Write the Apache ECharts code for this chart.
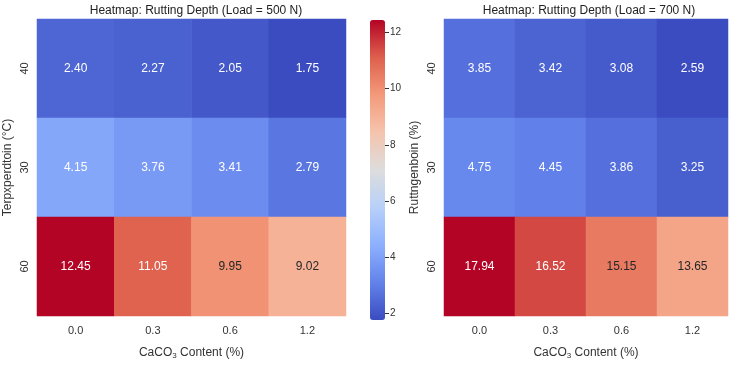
<!DOCTYPE html>
<html>
<head>
<meta charset="utf-8">
<script src="https://cdn.jsdelivr.net/npm/echarts@6/dist/echarts.min.js"></script>
<style>
  html, body { margin: 0; padding: 0; background: #fff; }
  #main { width: 730px; height: 365px; }
</style>
</head>
<body>
<div id="main"></div>
<script>
// data
var xCats = ['0.0', '0.3', '0.6', '1.2'];
var yCats = ['40', '30', '60'];
var depth500 = [
    [2.40, 2.27, 2.05, 1.75],
    [4.15, 3.76, 3.41, 2.79],
    [12.45, 11.05, 9.95, 9.02]
];
var depth700 = [
    [3.85, 3.42, 3.08, 2.59],
    [4.75, 4.45, 3.86, 3.25],
    [17.94, 16.52, 15.15, 13.65]
];
var cbarTicks = [2, 4, 6, 8, 10, 12];

// coolwarm
var coolwarm = ['#3b4cc0', '#6282ea', '#8db0fe', '#b8d0f9', '#dddddd',
                '#f5c4ad', '#f49a7b', '#de604d', '#b40426'];
var FONT = '"Liberation Sans", Arial, sans-serif';

function hexRgb(h) {
    return [parseInt(h.substr(1, 2), 16), parseInt(h.substr(3, 2), 16), parseInt(h.substr(5, 2), 16)];
}
function cmap(t) {
    t = Math.max(0, Math.min(1, t));
    var p = t * (coolwarm.length - 1);
    var i = Math.min(Math.floor(p), coolwarm.length - 2);
    var f = p - i;
    var a = hexRgb(coolwarm[i]), b = hexRgb(coolwarm[i + 1]);
    return [0, 1, 2].map(function (k) { return a[k] + (b[k] - a[k]) * f; });
}
// annotation colour: dark text on the lighter cells
function textColor(v, lo, hi) {
    var c = cmap((v - lo) / (hi - lo)).map(function (x) {
        x = x / 255;
        return x <= 0.03928 ? x / 12.92 : Math.pow((x + 0.055) / 1.055, 2.4);
    });
    var lum = 0.2126 * c[0] + 0.7152 * c[1] + 0.0722 * c[2];
    return lum > 0.3 && c[0] > 0.5 ? '#262626' : '#ffffff';
}
function toData(rows) {
    var all = [].concat.apply([], rows);
    var lo = Math.min.apply(null, all), hi = Math.max.apply(null, all);
    var out = [];
    rows.forEach(function (row, yi) {
        row.forEach(function (v, xi) {
            out.push({ value: [xi, yi, v], label: { color: textColor(v, lo, hi) } });
        });
    });
    return { data: out, min: lo, max: hi };
}

var d500 = toData(depth500);
var d700 = toData(depth700);

var grids = [
    { left: 37, top: 19, width: 309, height: 300 },
    { left: 444, top: 19, width: 284, height: 300 },
    { left: 370, top: 20, width: 15, height: 300 }
];

function catX(gi) {
    return {
        type: 'category', gridIndex: gi, data: xCats,
        axisLine: { show: false }, axisTick: { show: false }, splitArea: { show: false },
        axisLabel: { color: '#333', fontSize: 11, fontFamily: FONT, margin: 9 },
        name: '{n|CaCO}{s|3}{n| Content (%)}', nameLocation: 'middle', nameGap: 30,
        nameTextStyle: {
            rich: {
                n: { fontSize: 12, color: '#333', fontFamily: FONT },
                s: { fontSize: 8, color: '#333', fontFamily: FONT, verticalAlign: 'bottom', padding: [6, 0, 0, 0] }
            }
        }
    };
}
function catY(gi, name) {
    return {
        type: 'category', gridIndex: gi, data: yCats, inverse: true,
        axisLine: { show: false }, axisTick: { show: false },
        axisLabel: { color: '#333', fontSize: 11, fontFamily: FONT, rotate: 90, margin: 7 },
        name: name, nameLocation: 'middle', nameGap: 23,
        nameTextStyle: { fontSize: 12, color: '#333', fontFamily: FONT }
    };
}

var option = {
    backgroundColor: '#fff',
    animation: false,
    title: [
        { text: 'Heatmap: Rutting Depth (Load = 500 N)', left: 191, top: 0, textAlign: 'center',
          textStyle: { fontSize: 12, fontWeight: 'normal', color: '#222', fontFamily: FONT } },
        { text: 'Heatmap: Rutting Depth (Load = 700 N)', left: 584, top: 0, textAlign: 'center',
          textStyle: { fontSize: 12, fontWeight: 'normal', color: '#222', fontFamily: FONT } }
    ],
    grid: grids,
    xAxis: [
        catX(0),
        catX(1),
        { type: 'category', gridIndex: 2, data: [''], show: false }
    ],
    yAxis: [
        catY(0, 'Terpxperdtoin (°C)'),
        catY(1, 'Ruttngenboin (%)'),
        {
            type: 'value', gridIndex: 2, position: 'right', min: d500.min, max: d500.max,
            splitLine: { show: false }, axisLine: { show: false },
            axisTick: { show: true, length: 4, customValues: cbarTicks, lineStyle: { color: '#333' } },
            axisLabel: { customValues: cbarTicks, color: '#333', fontSize: 10, fontFamily: FONT, margin: 5 }
        }
    ],
    visualMap: [
        {
            type: 'continuous', seriesIndex: 0, min: d500.min, max: d500.max,
            calculable: false, hoverLink: false, realtime: false,
            left: 370, top: 20, itemWidth: 15, itemHeight: 300, padding: 0,
            text: null, showLabel: false,
            inRange: { color: coolwarm }
        },
        {
            type: 'continuous', seriesIndex: 1, min: d700.min, max: d700.max,
            show: false, inRange: { color: coolwarm }
        }
    ],
    series: [
        {
            type: 'heatmap', xAxisIndex: 0, yAxisIndex: 0, data: d500.data,
            label: { show: true, fontSize: 12, fontFamily: FONT,
                     formatter: function (p) { return p.value[2].toFixed(2); } },
            emphasis: { disabled: true }
        },
        {
            type: 'heatmap', xAxisIndex: 1, yAxisIndex: 1, data: d700.data,
            label: { show: true, fontSize: 12, fontFamily: FONT,
                     formatter: function (p) { return p.value[2].toFixed(2); } },
            emphasis: { disabled: true }
        }
    ]
};

var chart = echarts.init(document.getElementById('main'), null, { renderer: 'canvas' });
chart.setOption(option);
</script>
</body>
</html>
